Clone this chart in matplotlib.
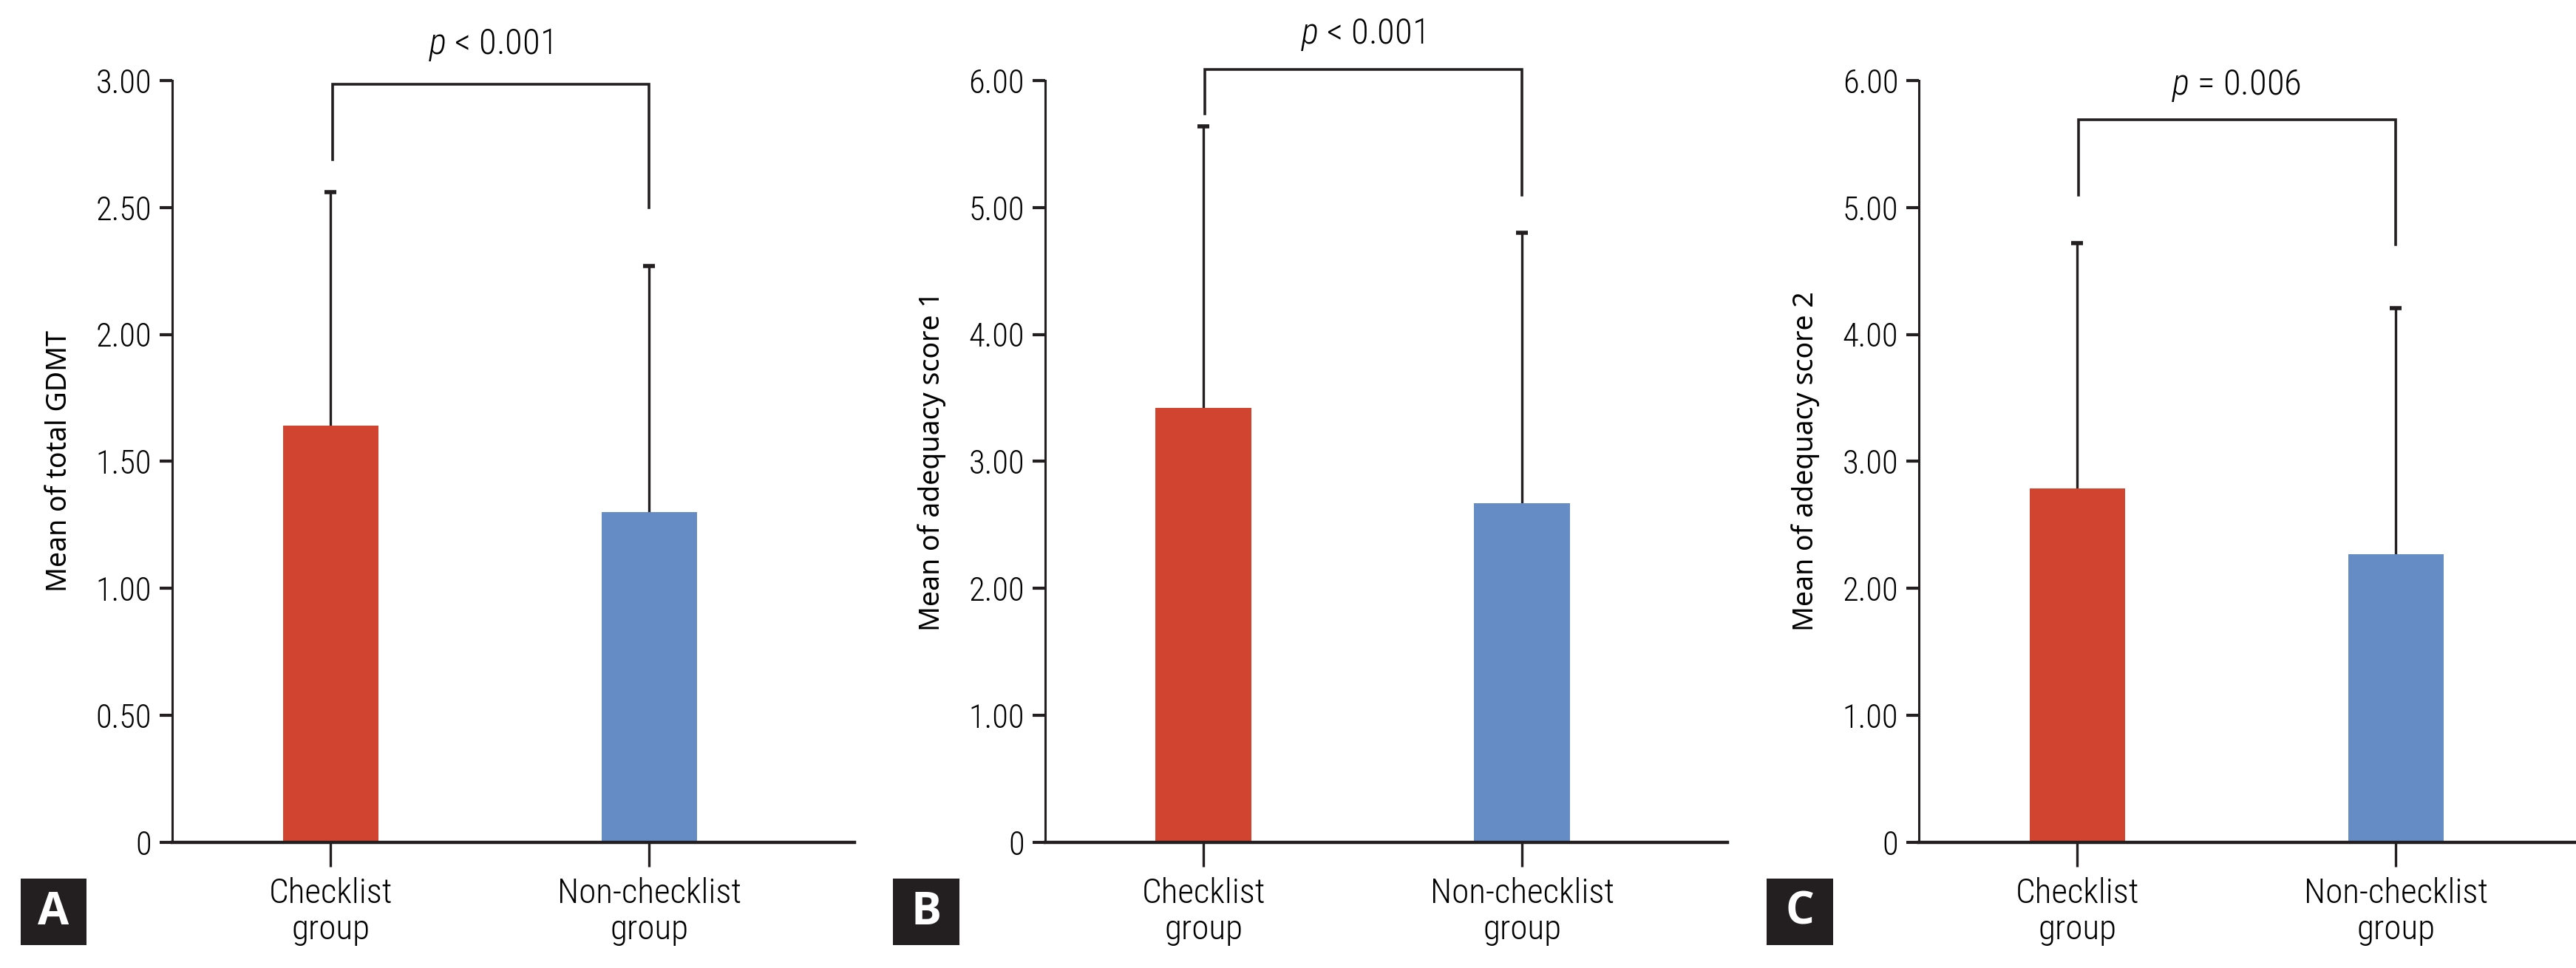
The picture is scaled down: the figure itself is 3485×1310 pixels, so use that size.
import matplotlib
matplotlib.use("Agg")
import matplotlib.pyplot as plt
from matplotlib.patches import Rectangle
from matplotlib.ticker import FuncFormatter

groups = ["Checklist\ngroup", "Non-checklist\ngroup"]
ylabels = ["Mean of total GDMT", "Mean of adequacy score 1", "Mean of adequacy score 2"]
panel_tags = ["A", "B", "C"]

means_a = [1.64, 1.30]
upper_a = [2.56, 2.27]
means_b = [3.42, 2.67]
upper_b = [5.64, 4.80]
means_c = [2.79, 2.27]
upper_c = [4.72, 4.21]

ymax = [3.0, 6.0, 6.0]
ystep = [0.5, 1.0, 1.0]
# bracket: (left leg bottom, right leg bottom, top, text y)
brackets = [(2.69, 2.50, 2.985, 3.07), (5.74, 5.10, 6.09, 6.22), (5.10, 4.71, 5.69, 5.82)]
pvals = [("<", "0.001"), ("<", "0.001"), ("=", "0.006")]

RED = "#D14430"
BLUE = "#658CC4"
INK = "#231F20"
NARROW = ["Roboto Condensed", "Liberation Sans Narrow", "DejaVu Sans Condensed", "Roboto", "DejaVu Sans"]

plt.rcParams["mathtext.fontset"] = "custom"
plt.rcParams["mathtext.it"] = "Roboto Condensed:italic:light"
plt.rcParams["mathtext.rm"] = "Roboto Condensed:light"

fig = plt.figure(figsize=(34.85, 13.10), dpi=100)
lefts = [0.0669, 0.4057, 0.7449]
data = [(means_a, upper_a), (means_b, upper_b), (means_c, upper_c)]

for i, (m, up) in enumerate(data):
    ax = fig.add_axes([lefts[i], 0.1298, 0.2648, 0.787])
    x = [0, 1]
    ax.bar(x, m, width=0.30, color=[RED, BLUE], zorder=2)
    # upper-only error bars
    ax.vlines(x, m, up, color=INK, lw=2.4, zorder=1)
    ax.plot(x, up, ls="none", marker="_", ms=12, mew=4, color=INK, zorder=1)
    ax.set_xlim(-0.497, 1.644)
    ax.set_ylim(0, ymax[i])
    n = int(round(ymax[i] / ystep[i]))
    ax.set_yticks([k * ystep[i] for k in range(n + 1)])
    ax.yaxis.set_major_formatter(FuncFormatter(lambda v, p: "0" if v == 0 else f"{v:.2f}"))
    ax.set_xticks(x)
    ax.set_xticklabels(groups, fontsize=34, family=NARROW, fontweight="light", linespacing=1.15)
    for t in ax.get_yticklabels():
        t.set_family(NARROW)
        t.set_fontsize(32)
        t.set_fontweight("light")
    ax.tick_params(axis="y", length=12, width=3, color=INK, pad=8)
    ax.tick_params(axis="x", length=24, width=2.4, color=INK, pad=10)
    for s in ("top", "right"):
        ax.spines[s].set_visible(False)
    ax.spines["left"].set_linewidth(2.2)
    ax.spines["bottom"].set_linewidth(3.2)
    for s in ("left", "bottom"):
        ax.spines[s].set_color(INK)
    ax.set_ylabel(ylabels[i], fontsize=27, family=["Noto Sans", "DejaVu Sans"], labelpad=22)

    lb, rb, top, ty = brackets[i]
    ax.plot([0.005, 0.005, 1.0, 1.0], [lb, top, top, rb], color=INK, lw=2.6,
            clip_on=False, solid_joinstyle="miter")
    op, val = pvals[i]
    ax.text(0.5, ty, f"$\\it{{p}}$ {op} {val}", ha="center", va="bottom", fontsize=35,
            family=NARROW, fontweight="light")

    # panel tag box
    bx = lefts[i] - 0.0590
    fig.patches.append(Rectangle((bx, 0.024), 0.0257, 0.068, transform=fig.transFigure,
                                 facecolor=INK, edgecolor="none"))
    fig.text(bx + 0.0128, 0.057, panel_tags[i], color="white", fontsize=44, fontweight="bold",
             ha="center", va="center", family=["Open Sans", "DejaVu Sans"])

fig.savefig("out.png", dpi=100)
